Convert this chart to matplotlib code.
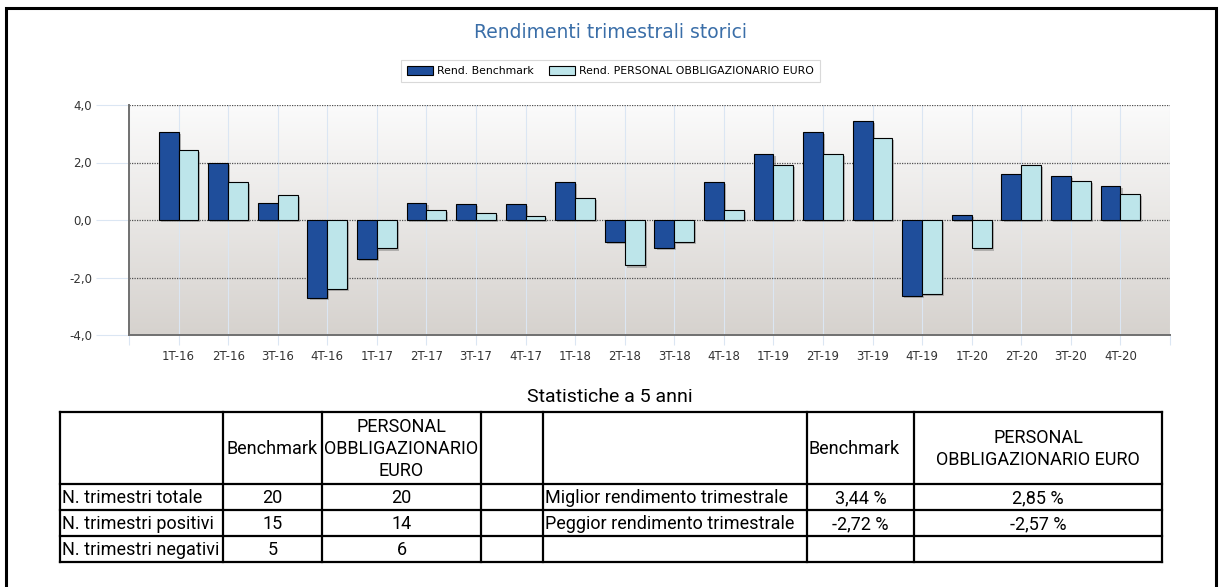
import numpy as np
import matplotlib
matplotlib.use("Agg")
import matplotlib.pyplot as plt
import matplotlib.patheffects as pe
from matplotlib.ticker import FuncFormatter, FixedLocator
from matplotlib.patches import Patch
from matplotlib.colors import LinearSegmentedColormap

# --- data -------------------------------------------------------------
quarters = ["1T-16", "2T-16", "3T-16", "4T-16",
            "1T-17", "2T-17", "3T-17", "4T-17",
            "1T-18", "2T-18", "3T-18", "4T-18",
            "1T-19", "2T-19", "3T-19", "4T-19",
            "1T-20", "2T-20", "3T-20", "4T-20"]
benchmark = [3.05, 1.97, 0.59, -2.72, -1.34, 0.59, 0.56, 0.56, 1.33, -0.77,
             -0.98, 1.33, 2.31, 3.05, 3.44, -2.63, 0.17, 1.60, 1.53, 1.19]
fund = [2.44, 1.33, 0.87, -2.40, -0.99, 0.35, 0.24, 0.14, 0.77, -1.58,
        -0.77, 0.35, 1.92, 2.31, 2.85, -2.57, -0.99, 1.92, 1.37, 0.91]
series_names = ["Rend. Benchmark", "Rend. PERSONAL OBBLIGAZIONARIO EURO"]
yticks = [-4.0, -2.0, 0.0, 2.0, 4.0]

table_title = "Statistiche a 5 anni"
table_header = ["", "Benchmark", "PERSONAL\nOBBLIGAZIONARIO\nEURO", "",
                "", "Benchmark", "PERSONAL\nOBBLIGAZIONARIO EURO"]
table_rows = [
    ["N. trimestri totale", "20", "20", "", "Miglior rendimento trimestrale", "3,44 %", "2,85 %"],
    ["N. trimestri positivi", "15", "14", "", "Peggior rendimento trimestrale", "-2,72 %", "-2,57 %"],
    ["N. trimestri negativi", "5", "6", "", "", "", ""],
]

# --- style ------------------------------------------------------------
W, H = 1225, 587
c_bench = "#1f4e9b"
c_fund = "#bde5ea"
c_title = "#3a6ea8"
c_tick = "#dbe6f3"
table_font = ["Roboto", "DejaVu Sans"]
tfs = 13

fig = plt.figure(figsize=(W / 100, H / 100), dpi=100)

# overlay in pixel coords for frame and table
ov = fig.add_axes([0, 0, 1, 1], zorder=0)
ov.set_xlim(0, W)
ov.set_ylim(H, 0)
ov.axis("off")

# outer frame
ov.plot([6, 6, 1216, 1216], [H + 5, 8, 8, H + 5], color="black", lw=2.2,
        solid_joinstyle="miter")

# --- chart ------------------------------------------------------------
L, R, T, B = 129, 1170, 105, 335
ax = fig.add_axes([L / W, 1 - B / H, (R - L) / W, (B - T) / H], zorder=1)
x = np.arange(len(quarters))

grad = np.linspace(0, 1, 256)[:, None]
cmap = LinearSegmentedColormap.from_list("bg", ["#fbfbfb", "#d6d2ce"])
ax.imshow(grad, aspect="auto", cmap=cmap, origin="upper",
          extent=(-1, len(quarters), -4, 4), zorder=0)
ax.set_xlim(-1, len(quarters))
ax.set_ylim(-4, 4)

for xv in list(x) + [-1, len(quarters)]:
    ax.axvline(xv, color=c_tick, lw=0.8, zorder=1)
for yv in yticks:
    ax.axhline(yv, color="#505050", lw=0.9, ls=(0, (1, 1)), zorder=1)

bw = 0.4
shadow = [pe.SimplePatchShadow(offset=(1.5, -1.5), shadow_rgbFace="#808080", alpha=0.5),
          pe.Normal()]
b1 = ax.bar(x - bw / 2, benchmark, bw, color=c_bench, edgecolor="black", lw=0.8,
            zorder=3, label=series_names[0])
b2 = ax.bar(x + bw / 2, fund, bw, color=c_fund, edgecolor="black", lw=0.8,
            zorder=3, label=series_names[1])
for p in list(b1) + list(b2):
    p.set_path_effects(shadow)

ax.set_xticks(x)
ax.set_xticklabels(quarters)
ax.xaxis.set_minor_locator(FixedLocator([-1, len(quarters)]))
ax.set_yticks(yticks)
ax.yaxis.set_major_formatter(FuncFormatter(lambda v, p: f"{v:.1f}".replace(".", ",")))
ax.tick_params(axis="y", length=24, width=0.8, color=c_tick, pad=2.5,
               labelsize=8.5, labelcolor="#333333")
ax.tick_params(axis="x", which="both", length=7.5, width=0.8, color=c_tick, pad=3,
               labelsize=8.5, labelcolor="#333333")
for s in ["top", "right"]:
    ax.spines[s].set_visible(False)
for s in ["left", "bottom"]:
    ax.spines[s].set_color("#707070")
    ax.spines[s].set_linewidth(1.4)
    ax.spines[s].set_zorder(4)

fig.text(610 / W, 1 - 33 / H, "Rendimenti trimestrali storici", color=c_title,
         fontsize=13.5, ha="center", va="center")

handles = [Patch(facecolor=c_bench, edgecolor="black", lw=0.8, label=series_names[0]),
           Patch(facecolor=c_fund, edgecolor="black", lw=0.8, label=series_names[1])]
leg = fig.legend(handles=handles, loc="center", ncol=2,
                 bbox_to_anchor=(610.5 / W, 1 - 71 / H), fontsize=7.8,
                 frameon=True, fancybox=False, edgecolor="#d0d0d0",
                 handlelength=2.4, handleheight=0.9, handletextpad=0.4,
                 columnspacing=1.4, borderpad=0.55)
leg.get_frame().set_linewidth(0.8)

# --- table ------------------------------------------------------------
col_edges = [60, 223, 322, 481, 543, 807, 914, 1162]
row_edges = [412, 484, 510, 536, 562]
left_cols = {0, 4}

ov.text(610, 397, table_title, ha="center", va="center", fontsize=14,
        family=table_font, color="black")

for y in row_edges:
    ov.plot([col_edges[0], col_edges[-1]], [y, y], color="black", lw=1.6,
            solid_capstyle="projecting")
for xv in col_edges:
    ov.plot([xv, xv], [row_edges[0], row_edges[-1]], color="black", lw=1.6,
            solid_capstyle="projecting")

all_rows = [table_header] + table_rows
for r, row in enumerate(all_rows):
    yc = (row_edges[r] + row_edges[r + 1]) / 2 + 1
    for c, txt in enumerate(row):
        if not txt:
            continue
        if c in left_cols or (r == 0 and c == 5):
            xt, ha = col_edges[c] + 2, "left"
        else:
            xt, ha = (col_edges[c] + col_edges[c + 1]) / 2, "center"
        ov.text(xt, yc, txt, ha=ha, va="center", fontsize=tfs, family=table_font,
                linespacing=1.25, color="black")

fig.savefig("out.png", dpi=100)
